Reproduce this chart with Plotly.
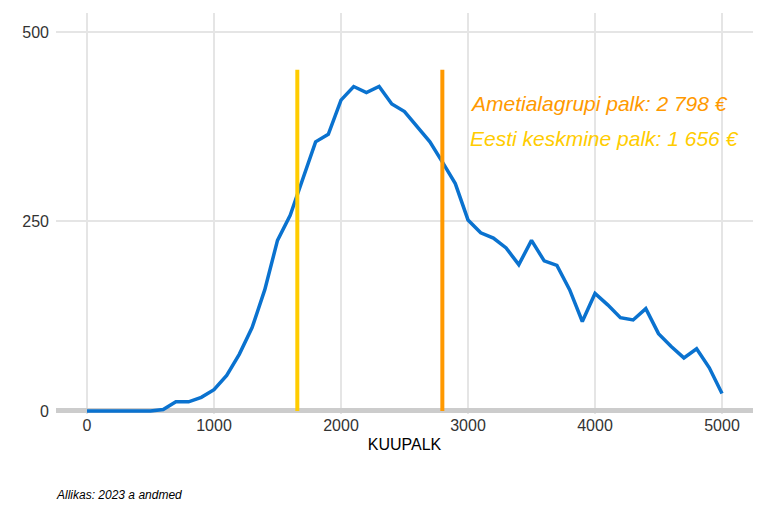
import plotly.graph_objects as go

salary = list(range(0, 5100, 100))
counts = [0, 0, 0, 0, 0, 0, 2, 12, 12, 18, 28, 47, 75, 110, 160, 225, 258, 305, 355, 365,
          410, 428, 420, 428, 405, 395, 375, 355, 328, 300, 252, 235, 228, 215, 193, 225,
          198, 192, 160, 118, 155, 140, 123, 120, 135, 102, 85, 70, 82, 57, 23]
occ_pay = 2798
avg_pay = 1656

fig = go.Figure()
fig.add_trace(go.Scatter(x=salary, y=counts, mode="lines",
                         line=dict(color="#0A72CF", width=3.5), showlegend=False))
fig.add_trace(go.Scatter(x=[avg_pay, avg_pay], y=[0, 450], mode="lines",
                         line=dict(color="#FFCC00", width=4), showlegend=False))
fig.add_trace(go.Scatter(x=[occ_pay, occ_pay], y=[0, 450], mode="lines",
                         line=dict(color="#FF9900", width=4), showlegend=False))

fig.add_annotation(x=3000, y=405, text="<i>Ametialagrupi palk: 2 798 €</i>", showarrow=False,
                   xanchor="left", font=dict(color="#FF9900", size=21))
fig.add_annotation(x=3000, y=360, text="<i>Eesti keskmine palk: 1 656 €</i>", showarrow=False,
                   xanchor="left", font=dict(color="#FFCC00", size=21))
fig.add_annotation(x=0, y=0, xref="paper", yref="paper", xanchor="left", yanchor="top",
                   text="<i>Allikas: 2023 a andmed</i>", showarrow=False,
                   font=dict(size=12, color="black"), xshift=-2, yshift=-72)

fig.update_layout(
    width=768, height=512, plot_bgcolor="white", paper_bgcolor="white",
    margin=dict(l=48, r=23, t=5, b=106),
    font=dict(family="Liberation Sans, Arial", size=16, color="#333"),
    xaxis=dict(range=[-244, 5244], tickvals=[0, 1000, 2000, 3000, 4000, 5000],
               showgrid=True, gridcolor="#E5E5E5", gridwidth=2, zeroline=False,
               automargin=False,
               title=dict(text="KUUPALK", font=dict(size=16, color="black"), standoff=5)),
    yaxis=dict(range=[-4, 525], tickvals=[0, 250, 500], showgrid=True, automargin=False,
               gridcolor="#E5E5E5", gridwidth=2, zeroline=True, zerolinecolor="#CCCCCC",
               zerolinewidth=5, ticklabelstandoff=6),
)

fig.write_html("out.html")
